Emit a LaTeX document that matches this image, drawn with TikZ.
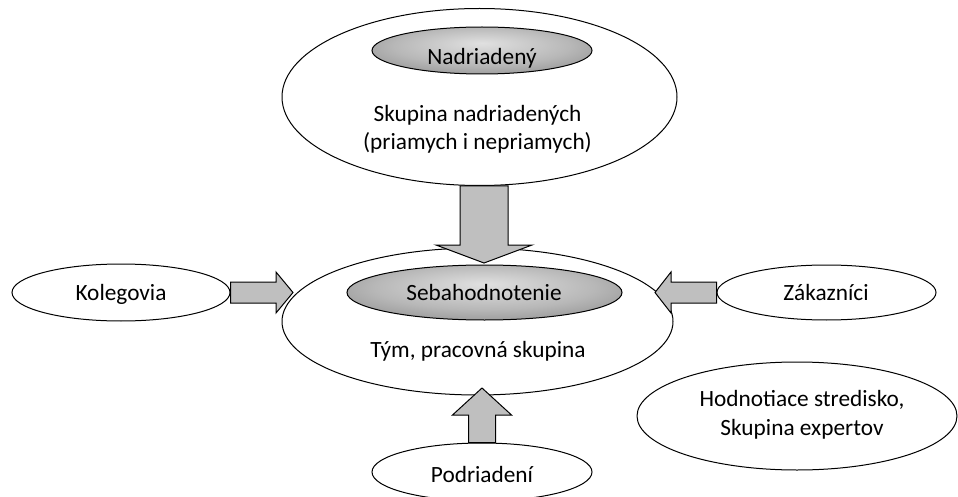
\documentclass[tikz,border=0pt]{standalone}
\usepackage{fontspec}
\setmainfont{Carlito}
\usetikzlibrary{shapes.geometric,calc}
\pgfdeclareradialshading{innerglow}{\pgfpoint{0bp}{8bp}}{color(0bp)=(black!12); color(20bp)=(black!28); color(50bp)=(black!62)}
\tikzset{
  oval/.style={ellipse, draw=black, line width=1pt, fill=white, inner sep=0pt},
  core/.style={ellipse, draw=black, line width=1pt, shading=innerglow, inner sep=0pt},
  lbl/.style={anchor=base, align=center, inner sep=0pt, font=\fontsize{23.3}{28}\selectfont},
  blockarrow/.style={draw=black, line width=1pt, fill=black!25, line join=miter},
}
% tail, tip, half shaft, half head, head length
\newcommand\bigarrow[5]{%
  \path ($(#2)!#5!(#1)$) coordinate (hb);
  \draw[blockarrow] ($(#1)!#3!90:(#2)$) -- ($(hb)!#3!-90:(#1)$) -- ($(hb)!#4!-90:(#1)$) -- (#2)
    -- ($(hb)!#4!90:(#1)$) -- ($(hb)!#3!90:(#1)$) -- ($(#1)!#3!-90:(#2)$) -- cycle;
}
\begin{document}
\begin{tikzpicture}[x=1pt, y=-1pt]
\useasboundingbox (0,0) rectangle (958,497);
% outer ovals
\node[oval, minimum width=395pt, minimum height=177pt] (boss) at (479.5,97) {};
\node[oval, minimum width=391pt, minimum height=147pt] (team) at (477.5,321.5) {};
\node[oval, minimum width=218pt, minimum height=57pt] (colleagues) at (121,292.5) {};
\node[oval, minimum width=219pt, minimum height=55pt] (customers) at (826.5,292.5) {};
\node[oval, minimum width=220pt, minimum height=58pt] (subordinates) at (482,472) {};
\node[oval, minimum width=320pt, minimum height=108pt] (centre) at (797,416) {};
% shaded cores
\node[core, minimum width=220pt, minimum height=47pt] (bosscore) at (482,50.5) {};
\node[core, minimum width=275pt, minimum height=55pt] (selfcore) at (484.5,292.5) {};
% arrows
\coordinate (downtip) at (484,263);
\coordinate (lefttip) at (293,292.5);
\coordinate (righttip) at (655,292.5);
\coordinate (uptip) at (482,388);
\bigarrow{boss.south -| downtip}{downtip}{24pt}{48pt}{18pt}
\bigarrow{colleagues.east}{lefttip}{10.5pt}{20.5pt}{17pt}
\bigarrow{customers.west}{righttip}{10.5pt}{20.5pt}{16pt}
\bigarrow{subordinates.north}{uptip}{13.5pt}{29.5pt}{27pt}
% texts (base = last line)
\node[lbl] (bosslbl) at (482,65) {Nadriadený};
\node[lbl] (bosstext) at (477.5,150) {Skupina nadriadených\\(priamych i nepriamych)};
\node[lbl] (selflbl) at (484,300) {Sebahodnotenie};
\node[lbl] (teamtext) at (478,357) {Tým, pracovná skupina};
\node[lbl] (colllbl) at (121,300) {Kolegovia};
\node[lbl] (custlbl) at (826,300) {Zákazníci};
\node[lbl] (sublbl) at (482,482) {Podriadení};
\node[lbl, font=\fontsize{23.3}{29}\selectfont] (centrelbl) at (802,435) {Hodnotiace stredisko,\\Skupina expertov};
\end{tikzpicture}
\end{document}
